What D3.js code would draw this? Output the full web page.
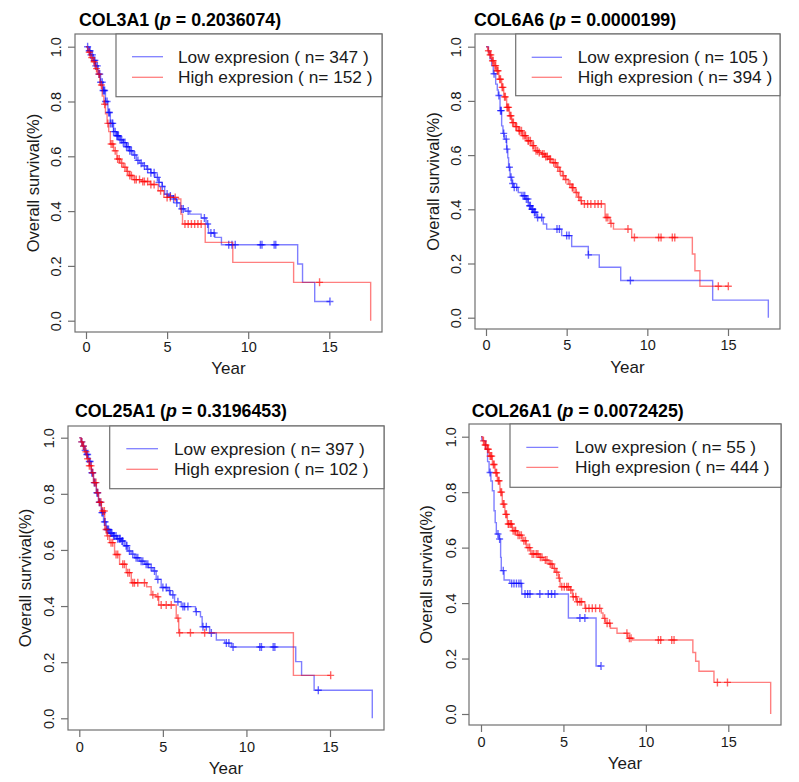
<!DOCTYPE html>
<html>
<head>
<meta charset="utf-8">
<script src="https://cdn.jsdelivr.net/npm/d3@7"></script>
<style>
  html, body { margin: 0; padding: 0; background: #fff; }
  svg { display: block; font-family: "Liberation Sans", Arial, sans-serif; }
</style>
</head>
<body>
<svg id="chart" width="799" height="782"></svg>
<script>
// ---------------- DATA ----------------
const genes = ["COL3A1", "COL6A6", "COL25A1", "COL26A1"];
const pValues = ["0.2036074", "0.0000199", "0.3196453", "0.0072425"];
const lowN = [347, 105, 397, 55];
const highN = [152, 394, 102, 444];
const legendLabels = ["Low expresion", "High expresion"];
const xTicks = [0, 5, 10, 15];
const yTicks = [0.0, 0.2, 0.4, 0.6, 0.8, 1.0];
const xLabel = "Year";
const yLabel = "Overall survival(%)";

// COL3A1
const col3a1LowTime = [0, 0.15, 0.3, 0.45, 0.6, 0.75, 0.9, 1.05, 1.2, 1.35, 1.5, 1.7, 1.9, 2.1, 2.3, 2.5, 2.7, 2.9, 3.1, 3.3, 3.5, 3.75, 4.0, 4.25, 4.5, 4.7, 4.85, 5.1, 5.4, 5.6, 5.8, 6.1, 6.4, 7.1, 7.4, 7.55, 7.95, 8.35, 13.05, 13.35, 14.1];
const col3a1LowSurv = [1.0, 0.985, 0.97, 0.95, 0.93, 0.9, 0.87, 0.84, 0.8, 0.76, 0.72, 0.69, 0.675, 0.66, 0.65, 0.635, 0.62, 0.605, 0.585, 0.575, 0.565, 0.553, 0.54, 0.523, 0.505, 0.49, 0.462, 0.455, 0.444, 0.43, 0.408, 0.4, 0.389, 0.375, 0.353, 0.32, 0.304, 0.277, 0.207, 0.14, 0.07];
const col3a1LowCensor = [0.1, 0.2, 0.25, 0.3, 0.4, 0.5, 0.55, 0.6, 0.7, 0.8, 0.85, 0.9, 1.0, 1.05, 1.1, 1.15, 1.2, 1.3, 1.4, 1.45, 1.5, 1.6, 1.65, 1.7, 1.8, 1.9, 1.95, 2.0, 2.1, 2.2, 2.3, 2.4, 2.5, 2.6, 2.7, 2.8, 3.0, 3.2, 3.4, 3.6, 3.8, 4.0, 4.2, 4.4, 4.5, 4.7, 5.0, 5.2, 5.4, 5.6, 5.9, 6.0, 6.3, 7.3, 7.5, 7.7, 7.9, 8.8, 9.0, 9.2, 10.75, 10.85, 11.6, 11.7, 15.04];
const col3a1HighTime = [0, 0.1, 0.25, 0.4, 0.55, 0.7, 0.85, 1.0, 1.1, 1.2, 1.3, 1.4, 1.5, 1.7, 1.9, 2.1, 2.3, 2.5, 2.65, 2.9, 3.4, 3.95, 4.45, 4.8, 5.7, 5.85, 5.95, 7.35, 9.05, 12.8, 17.55];
const col3a1HighSurv = [1.0, 0.98, 0.96, 0.945, 0.92, 0.9, 0.86, 0.82, 0.79, 0.755, 0.72, 0.69, 0.645, 0.62, 0.59, 0.575, 0.56, 0.545, 0.53, 0.515, 0.508, 0.497, 0.474, 0.45, 0.444, 0.389, 0.353, 0.286, 0.213, 0.14, 0.0];
const col3a1HighCensor = [0.2, 0.35, 0.5, 0.65, 0.8, 0.95, 1.15, 1.35, 1.55, 1.65, 1.8, 1.95, 2.05, 2.2, 2.4, 2.55, 2.7, 2.8, 3.0, 3.1, 3.3, 3.5, 3.6, 3.8, 4.0, 4.2, 4.6, 5.0, 5.2, 5.5, 6.1, 6.3, 6.5, 6.7, 6.9, 7.1, 14.4];

// COL6A6
const col6a6LowTime = [0, 0.15, 0.25, 0.35, 0.45, 0.6, 0.7, 0.76, 0.87, 0.97, 1.05, 1.14, 1.28, 1.35, 1.4, 1.49, 1.6, 1.69, 2.0, 2.2, 2.42, 2.62, 2.8, 2.93, 3.14, 3.55, 3.76, 4.69, 5.31, 6.34, 7.02, 8.35, 14.05, 17.5];
const col6a6LowSurv = [1.0, 0.98, 0.955, 0.93, 0.9, 0.862, 0.84, 0.82, 0.764, 0.708, 0.68, 0.659, 0.622, 0.59, 0.555, 0.518, 0.495, 0.481, 0.462, 0.45, 0.438, 0.413, 0.4, 0.389, 0.37, 0.346, 0.327, 0.303, 0.263, 0.232, 0.186, 0.137, 0.065, 0.0];
const col6a6LowCensor = [0.5, 0.8, 0.9, 0.95, 1.1, 1.25, 1.3, 1.45, 1.55, 1.65, 1.75, 1.9, 2.3, 2.4, 2.5, 2.6, 2.7, 2.75, 2.85, 2.9, 3.0, 3.05, 3.2, 3.45, 4.4, 4.55, 5.0, 5.15, 6.35, 8.95];
const col6a6HighTime = [0, 0.1, 0.2, 0.35, 0.5, 0.66, 0.8, 0.97, 1.1, 1.28, 1.45, 1.59, 1.8, 2.0, 2.25, 2.52, 2.8, 3.04, 3.25, 3.45, 3.65, 3.86, 4.1, 4.38, 4.55, 4.73, 4.9, 5.1, 5.3, 5.52, 5.7, 5.83, 5.93, 7.38, 7.69, 7.9, 9.03, 12.79, 12.95, 13.26];
const col6a6HighSurv = [1.0, 0.985, 0.97, 0.948, 0.93, 0.911, 0.88, 0.85, 0.815, 0.776, 0.745, 0.72, 0.705, 0.69, 0.672, 0.653, 0.635, 0.616, 0.61, 0.604, 0.595, 0.585, 0.572, 0.555, 0.54, 0.524, 0.51, 0.493, 0.48, 0.462, 0.445, 0.432, 0.42, 0.37, 0.348, 0.327, 0.296, 0.235, 0.173, 0.116];
const col6a6HighCensor = [0.15, 0.25, 0.3, 0.4, 0.45, 0.55, 0.6, 0.7, 0.75, 0.85, 0.9, 1.0, 1.05, 1.15, 1.2, 1.3, 1.35, 1.4, 1.5, 1.55, 1.65, 1.7, 1.85, 1.9, 2.05, 2.1, 2.2, 2.3, 2.4, 2.45, 2.6, 2.65, 2.75, 2.9, 2.95, 3.1, 3.2, 3.3, 3.5, 3.6, 3.7, 3.8, 3.95, 4.0, 4.2, 4.3, 4.45, 4.6, 4.8, 4.95, 5.2, 5.35, 5.4, 5.6, 5.75, 5.9, 6.1, 6.3, 6.5, 6.75, 6.95, 7.15, 7.45, 7.55, 7.75, 8.8, 9.2, 10.7, 10.85, 11.55, 11.7, 14.4, 15.02];

// COL25A1
const col25a1LowTime = [0, 0.1, 0.2, 0.32, 0.42, 0.55, 0.72, 0.85, 1.02, 1.15, 1.32, 1.45, 1.61, 1.8, 2.01, 2.25, 2.51, 2.7, 2.91, 3.1, 3.31, 3.6, 3.91, 4.15, 4.41, 4.6, 4.9, 5.3, 5.45, 5.7, 6.1, 6.95, 7.25, 7.35, 7.8, 8.2, 8.7, 9.1, 12.95, 13.3, 14.05, 17.53];
const col25a1LowSurv = [1.0, 0.985, 0.97, 0.955, 0.94, 0.915, 0.875, 0.84, 0.804, 0.77, 0.733, 0.7, 0.673, 0.66, 0.65, 0.64, 0.632, 0.615, 0.596, 0.585, 0.572, 0.56, 0.549, 0.537, 0.525, 0.495, 0.466, 0.455, 0.44, 0.415, 0.398, 0.38, 0.362, 0.326, 0.304, 0.279, 0.268, 0.254, 0.202, 0.153, 0.1, 0.0];
const col25a1LowCensor = [0.15, 0.25, 0.35, 0.45, 0.5, 0.6, 0.65, 0.75, 0.8, 0.9, 0.95, 1.05, 1.1, 1.2, 1.25, 1.35, 1.4, 1.5, 1.55, 1.65, 1.7, 1.75, 1.85, 1.9, 1.95, 2.05, 2.1, 2.2, 2.3, 2.4, 2.45, 2.55, 2.6, 2.8, 2.85, 3.0, 3.2, 3.4, 3.5, 3.7, 3.8, 4.0, 4.1, 4.3, 4.5, 4.7, 5.0, 5.2, 5.4, 5.6, 5.9, 6.2, 6.3, 6.5, 7.0, 7.4, 7.6, 7.9, 8.8, 8.95, 9.2, 10.8, 10.9, 11.6, 11.7, 14.3];
const col25a1HighTime = [0, 0.1, 0.2, 0.32, 0.45, 0.6, 0.72, 0.85, 1.02, 1.15, 1.32, 1.52, 1.65, 1.81, 2.11, 2.41, 2.81, 3.11, 4.03, 4.3, 4.6, 4.75, 5.8, 5.95, 12.81];
const col25a1HighSurv = [1.0, 0.985, 0.97, 0.95, 0.925, 0.9, 0.875, 0.84, 0.804, 0.77, 0.739, 0.673, 0.65, 0.626, 0.584, 0.549, 0.519, 0.483, 0.469, 0.44, 0.433, 0.404, 0.357, 0.305, 0.153];
const col25a1HighCensor = [0.15, 0.25, 0.4, 0.5, 0.6, 0.7, 0.8, 0.9, 1.0, 1.1, 1.2, 1.3, 1.4, 1.5, 1.6, 1.7, 1.9, 2.0, 2.2, 2.3, 2.6, 2.7, 2.9, 3.0, 3.2, 3.3, 3.5, 3.9, 4.4, 4.7, 4.9, 5.2, 5.5, 5.9, 6.0, 6.65, 7.5, 15.04];

// COL26A1
const col26a1LowTime = [0, 0.05, 0.28, 0.4, 0.49, 0.6, 0.69, 0.79, 0.86, 0.93, 1.09, 1.19, 1.23, 1.4, 1.75, 2.47, 5.3, 6.98];
const col26a1LowSurv = [1.0, 0.986, 0.955, 0.91, 0.871, 0.84, 0.805, 0.733, 0.69, 0.649, 0.631, 0.565, 0.517, 0.483, 0.471, 0.433, 0.346, 0.173];
const col26a1LowCensor = [0.55, 1.03, 1.13, 1.35, 1.86, 2.0, 2.15, 2.3, 2.42, 2.67, 2.83, 2.97, 3.57, 4.08, 4.28, 4.48, 6.0, 6.3, 7.28];
const col26a1HighTime = [0, 0.1, 0.2, 0.38, 0.5, 0.69, 0.85, 0.99, 1.15, 1.29, 1.45, 1.6, 1.9, 2.2, 2.51, 2.75, 3.01, 3.52, 3.8, 4.12, 4.35, 4.53, 4.7, 4.8, 5.4, 5.55, 5.8, 6.3, 7.3, 7.4, 7.55, 7.85, 8.25, 8.9, 9.2, 12.85, 13.02, 13.22, 14.13, 17.57];
const col26a1HighSurv = [1.0, 0.985, 0.97, 0.955, 0.93, 0.9, 0.87, 0.841, 0.8, 0.757, 0.72, 0.685, 0.661, 0.645, 0.625, 0.6, 0.577, 0.565, 0.555, 0.541, 0.525, 0.511, 0.49, 0.459, 0.447, 0.423, 0.405, 0.381, 0.364, 0.345, 0.327, 0.309, 0.291, 0.273, 0.267, 0.222, 0.19, 0.154, 0.114, 0.0];
const col26a1HighCensor = [0.15, 0.25, 0.3, 0.4, 0.45, 0.55, 0.6, 0.65, 0.75, 0.8, 0.9, 0.95, 1.05, 1.1, 1.2, 1.25, 1.35, 1.4, 1.5, 1.55, 1.65, 1.7, 1.8, 1.85, 1.95, 2.05, 2.1, 2.25, 2.35, 2.45, 2.6, 2.7, 2.85, 2.95, 3.1, 3.2, 3.35, 3.45, 3.6, 3.7, 3.9, 4.0, 4.2, 4.3, 4.45, 4.6, 4.75, 4.9, 5.05, 5.2, 5.3, 5.45, 5.6, 5.75, 5.85, 6.0, 6.1, 6.35, 6.55, 6.75, 6.95, 7.2, 7.5, 7.65, 7.8, 8.85, 9.0, 9.1, 10.76, 10.9, 11.57, 11.71, 14.34, 14.95];

// ---------------- LAYOUT ----------------
const series = [
  { low: [col3a1LowTime, col3a1LowSurv, col3a1LowCensor], high: [col3a1HighTime, col3a1HighSurv, col3a1HighCensor] },
  { low: [col6a6LowTime, col6a6LowSurv, col6a6LowCensor], high: [col6a6HighTime, col6a6HighSurv, col6a6HighCensor] },
  { low: [col25a1LowTime, col25a1LowSurv, col25a1LowCensor], high: [col25a1HighTime, col25a1HighSurv, col25a1HighCensor] },
  { low: [col26a1LowTime, col26a1LowSurv, col26a1LowCensor], high: [col26a1HighTime, col26a1HighSurv, col26a1HighCensor] }
];

const layout = [
  { box: [75, 34, 382, 332], x0: 86, x15: 329.3, y1: 46.7, y0: 320.7, title: [79, 26], leg: [116, 96.7, 132, 163, 178, 56.7, 77.3], yLab: 33, yTickC: 56, xTickC: 347, xLabY: 374 },
  { box: [475, 34, 780, 329], x0: 486, x15: 728, y1: 46.7, y0: 317.7, title: [474, 26], leg: [515.7, 95.7, 531.7, 562, 577.7, 57.3, 77.3], yLab: 432.5, yTickC: 456, xTickC: 345, xLabY: 372.7 },
  { box: [68, 426, 384, 730], x0: 79.3, x15: 330, y1: 437.7, y0: 718.3, title: [75, 417.3], leg: [109.7, 488.7, 126.3, 158, 174, 448.7, 469.3], yLab: 24.5, yTickC: 49, xTickC: 747, xLabY: 774 },
  { box: [469, 424, 781, 725], x0: 481, x15: 728.3, y1: 436.7, y0: 714, title: [471.7, 417.3], leg: [510, 487.3, 526.3, 558.3, 575, 447.3, 467.3], yLab: 426, yTickC: 451, xTickC: 742, xLabY: 769 }
];

const COLORS = { low: "#0000ff", high: "#ff0000" };
const LINE_OPACITY = 0.5;
const MARK_OPACITY = 0.6;
const GRAY = "#707070";
const TEXT = "#1a1a1a";

const svg = d3.select("#chart");

function survAt(t, T, S) {
  let v = S[0];
  for (let i = 0; i < T.length; i++) { if (T[i] <= t + 1e-9) v = S[i]; else break; }
  return v;
}

layout.forEach((L, i) => {
  const g = svg.append("g");
  const [bx0, by0, bx1, by1] = L.box;
  const x = d3.scaleLinear().domain([0, 15]).range([L.x0, L.x15]);
  const y = d3.scaleLinear().domain([0, 1]).range([L.y0, L.y1]);

  // Curves
  ["low", "high"].forEach(key => {
    const [T, S, C] = series[i][key];
    const pts = T.map((t, k) => [t, S[k]]);
    const endT = Math.max(T[T.length - 1], C.length ? C[C.length - 1] : 0);
    if (endT > T[T.length - 1]) pts.push([endT, S[S.length - 1]]);
    const line = d3.line().x(d => x(d[0])).y(d => y(d[1])).curve(d3.curveStepAfter);
    g.append("path").attr("d", line(pts))
      .attr("fill", "none").attr("stroke", COLORS[key])
      .attr("stroke-opacity", LINE_OPACITY).attr("stroke-width", 1.4);
    g.append("g").selectAll("path").data(C).join("path")
      .attr("d", t => {
        const cx = x(t), cy = y(survAt(t, T, S));
        return `M${cx - 3.5},${cy}h7M${cx},${cy - 4}v8`;
      })
      .attr("fill", "none").attr("stroke", COLORS[key])
      .attr("stroke-opacity", MARK_OPACITY).attr("stroke-width", 1.4);
  });

  // Box
  g.append("rect").attr("x", bx0).attr("y", by0)
    .attr("width", bx1 - bx0).attr("height", by1 - by0)
    .attr("fill", "none").attr("stroke", GRAY).attr("stroke-width", 1.2);

  // X axis
  const xa = g.append("g").attr("transform", `translate(0,${by1})`)
    .call(d3.axisBottom(x).tickValues(xTicks).tickSize(7).tickPadding(3).tickFormat(d3.format("d")));
  xa.select(".domain").remove();
  xa.selectAll("line").attr("stroke", GRAY).attr("stroke-width", 1.2);
  xa.selectAll("text").attr("font-size", 14.5).attr("fill", TEXT)
    .attr("font-family", "Liberation Sans, Arial, sans-serif")
    .attr("dy", null)
    .attr("dominant-baseline", "central")
    .attr("y", L.xTickC - by1);

  // Y axis
  const ya = g.append("g").attr("transform", `translate(${bx0},0)`)
    .call(d3.axisLeft(y).tickValues(yTicks).tickSize(7).tickFormat(d3.format(".1f")));
  ya.select(".domain").remove();
  ya.selectAll("line").attr("stroke", GRAY).attr("stroke-width", 1.2);
  ya.selectAll("text").attr("font-size", 14.5).attr("fill", TEXT)
    .attr("font-family", "Liberation Sans, Arial, sans-serif")
    .attr("x", 0).attr("dy", null)
    .attr("y", -(bx0 - L.yTickC))
    .attr("text-anchor", "middle")
    .attr("dominant-baseline", "central")
    .attr("transform", "rotate(-90)");

  // Axis labels
  g.append("text").attr("x", (bx0 + bx1) / 2).attr("y", L.xLabY)
    .attr("text-anchor", "middle").attr("font-size", 17).attr("fill", TEXT).text(xLabel);
  g.append("text")
    .attr("transform", `translate(${L.yLab},${(by0 + by1) / 2}) rotate(-90)`)
    .attr("text-anchor", "middle").attr("dominant-baseline", "central")
    .attr("font-size", 16.5).attr("fill", TEXT).text(yLabel);

  // Title
  const tt = g.append("text").attr("x", L.title[0]).attr("y", L.title[1])
    .attr("font-size", 17.8).attr("font-weight", "bold").attr("fill", "#000");
  tt.append("tspan").text(genes[i] + " (");
  tt.append("tspan").attr("font-style", "italic").text("p");
  tt.append("tspan").text(" = " + pValues[i] + ")");

  // Legend
  const [lx0, ly1, lsx0, lsx1, ltx, r1, r2] = L.leg;
  g.append("rect").attr("x", lx0).attr("y", by0).attr("width", bx1 - lx0).attr("height", ly1 - by0)
    .attr("fill", "#fff").attr("stroke", GRAY).attr("stroke-width", 1.2);
  const entries = [
    { key: "low", text: `${legendLabels[0]} ( n= ${lowN[i]} )`, y: r1 },
    { key: "high", text: `${legendLabels[1]} ( n= ${highN[i]} )`, y: r2 }
  ];
  entries.forEach(e => {
    g.append("line").attr("x1", lsx0).attr("x2", lsx1).attr("y1", e.y).attr("y2", e.y)
      .attr("stroke", COLORS[e.key]).attr("stroke-opacity", LINE_OPACITY).attr("stroke-width", 1.3);
    g.append("text").attr("x", ltx).attr("y", e.y).attr("dominant-baseline", "central")
      .attr("font-size", 17.3).attr("fill", TEXT).text(e.text);
  });
});
</script>
</body>
</html>
